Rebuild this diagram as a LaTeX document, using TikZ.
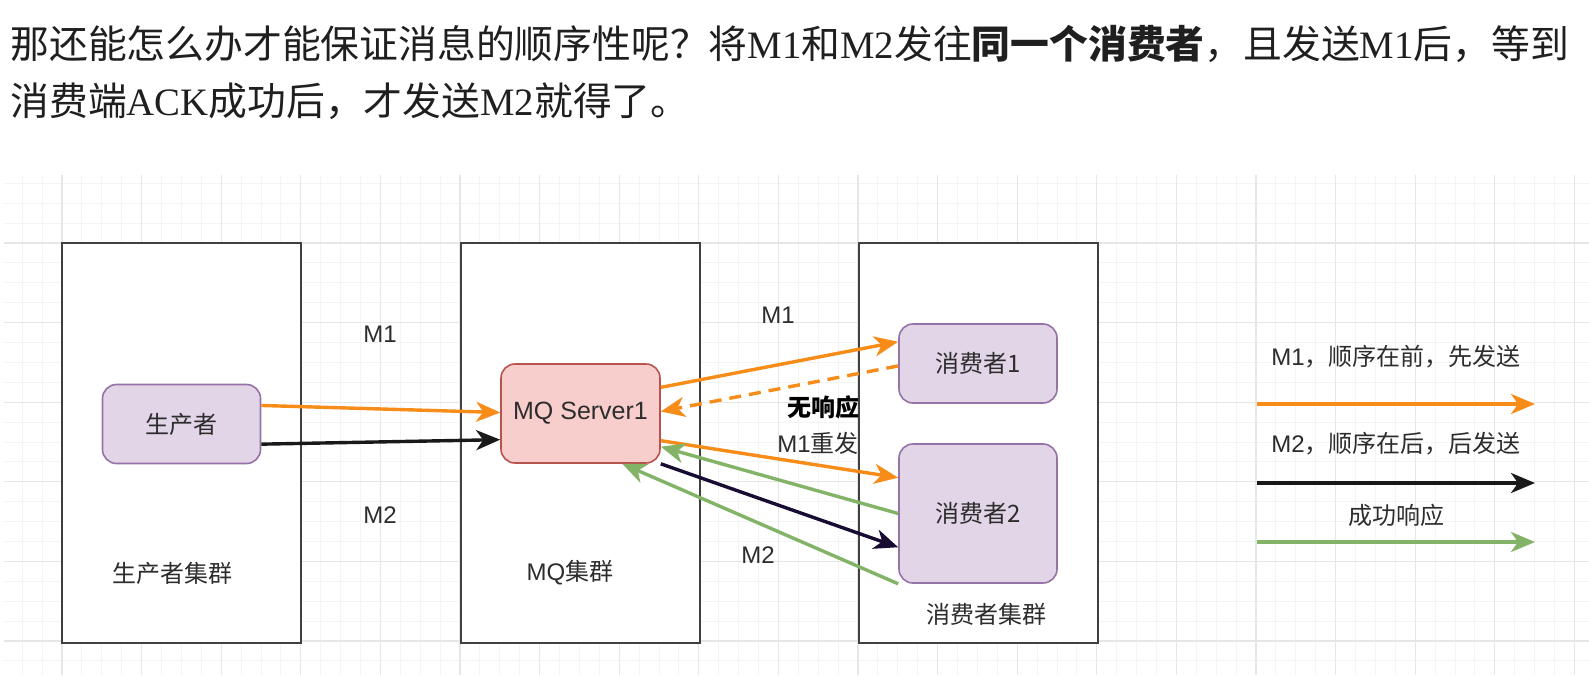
\documentclass[tikz,border=0pt]{standalone}
\usepackage{fontspec}
\setmainfont{Liberation Sans}
\newfontfamily\cjk{Noto Sans CJK SC}
\newfontfamily\serifen{Liberation Serif}
\usetikzlibrary{arrows.meta,calc}
\definecolor{orangeA}{RGB}{247,140,25}
\definecolor{greenA}{RGB}{130,179,102}
\definecolor{navyA}{RGB}{25,12,50}
\definecolor{blackA}{RGB}{25,25,25}
\definecolor{purpleF}{RGB}{225,213,231}
\definecolor{purpleD}{RGB}{150,115,166}
\definecolor{pinkF}{RGB}{248,206,204}
\definecolor{pinkD}{RGB}{184,84,80}
\definecolor{gridminor}{RGB}{244,244,244}
\definecolor{gridmajor}{RGB}{230,230,230}
\definecolor{txt}{RGB}{45,45,45}
\begin{document}
\begin{tikzpicture}[x=0.5pt,y=-0.5pt,
  cluster/.style={draw=black!75, line width=1.1pt, fill=white, minimum width=119.5pt, minimum height=200pt, inner sep=0},
  actor/.style={draw=purpleD, fill=purpleF, line width=0.8pt, rounded corners=7pt, minimum width=79pt, inner sep=0, font=\cjk\fontsize{12pt}{14pt}\selectfont, text=txt},
  server/.style={draw=pinkD, fill=pinkF, line width=0.8pt, rounded corners=7pt, minimum width=79.5pt, minimum height=49.5pt, inner sep=0, font=\fontsize{12.5pt}{14pt}\selectfont, text=txt},
  lbl/.style={font=\fontsize{12pt}{14pt}\selectfont, text=txt, inner sep=0},
  zlbl/.style={font=\cjk\fontsize{12pt}{14pt}\selectfont, text=txt, inner sep=0},
  flow/.style={line width=1.7pt, -{Stealth[length=12pt,width=10pt,inset=3.5pt]}},
  title/.style={anchor=west, inner sep=0, text=black!88, font=\cjk\fontsize{19.4pt}{22pt}\selectfont},
]
\useasboundingbox (0,0) rectangle (1589,675);
\fill[white] (0,0) rectangle (1589,675);
% grid
\begin{scope}
\clip (4,175) rectangle (1589,675);
\foreach \i in {-3,...,80} {\draw[gridminor, line width=0.5pt] ({62+19.9*\i},175) -- ({62+19.9*\i},675);}
\foreach \j in {-4,...,22} {\draw[gridminor, line width=0.5pt] (0,{243+19.9*\j}) -- (1589,{243+19.9*\j});}
\foreach \i in {-1,...,20} {\draw[gridmajor, line width=0.6pt] ({62+79.6*\i},175) -- ({62+79.6*\i},675);}
\foreach \j in {-1,...,5} {\draw[gridmajor, line width=0.6pt] (0,{243+79.6*\j}) -- (1589,{243+79.6*\j});}
\end{scope}
% title
\node[title] (t1) at (10,44) {那还能怎么办才能保证消息的顺序性呢？将{\serifen M1}和{\serifen M2}发往{\bfseries 同一个消费者}，且发送{\serifen M1}后，等到};
\node[title] (t2) at (10,101) {消费端{\serifen ACK}成功后，才发送{\serifen M2}就得了。};
% clusters
\node[cluster] (pc) at (181.5,443) {};
\node[cluster] (mc) at (580.5,443) {};
\node[cluster] (cc) at (978.5,443) {};
% nodes
\node[actor, minimum height=39.5pt] (prod) at (181.5,424) {生产者};
\node[server] (mq) at (580.5,413.5) {MQ Server1};
\node[actor, minimum height=39.5pt] (c1) at (978,363.5) {消费者1};
\node[actor, minimum height=69.5pt] (c2) at (978,513.5) {消费者2};
% connectors
\draw[flow, orangeA] ($(prod.north east)!0.27!(prod.south east)$) -- ($(mq.north west)!0.49!(mq.south west)$);
\draw[flow, blackA] ($(prod.north east)!0.75!(prod.south east)$) -- ($(mq.north west)!0.76!(mq.south west)$);
\draw[flow, orangeA] ($(mq.north east)!0.24!(mq.south east)$) -- ($(c1.north west)!0.23!(c1.south west)$);
\draw[flow, orangeA, dash pattern=on 6pt off 4pt] ($(c1.north west)!0.53!(c1.south west)$) -- ($(mq.north east)!0.48!(mq.south east)$);
\draw[flow, orangeA] ($(mq.north east)!0.77!(mq.south east)$) -- ($(c2.north west)!0.245!(c2.south west)$);
\draw[flow, greenA] ($(c2.north west)!0.5!(c2.south west)$) -- ($(mq.north east)!0.83!(mq.south east)$);
\draw[flow, navyA] (mq.south east) -- ($(c2.north west)!0.74!(c2.south west)$);
\draw[flow, greenA] (c2.south west) -- ($(mq.south west)!0.76!(mq.south east)$);
% labels
\node[lbl] (m1a) at (380,334) {M1};
\node[lbl] (m2a) at (380,515) {M2};
\node[lbl] (m1b) at (778,315) {M1};
\node[zlbl, font=\cjk\bfseries\fontsize{12pt}{14pt}\selectfont, text=black] (nr) at (823,407) {无响应};
\node[lbl] (m1r) at (818,443) {M1{\cjk 重发}};
\node[lbl] (m2b) at (758,555) {M2};
\node[zlbl] (pcl) at (172,573) {生产者集群};
\node[lbl] (mcl) at (570,573) {MQ{\cjk 集群}};
\node[zlbl] (ccl) at (986,614) {消费者集群};
% legend
\node[lbl] (lg1) at (1396,357) {M1{\cjk ，顺序在前，先发送}};
\node[lbl] (lg2) at (1396,444) {M2{\cjk ，顺序在后，后发送}};
\node[zlbl] (lg3) at (1396,515) {成功响应};
\coordinate (l1s) at (1257,404); \coordinate (l1e) at (1535,404);
\coordinate (l2s) at (1257,483); \coordinate (l2e) at (1535,483);
\coordinate (l3s) at (1257,542); \coordinate (l3e) at (1535,542);
\draw[flow, orangeA] (l1s) -- (l1e);
\draw[flow, blackA] (l2s) -- (l2e);
\draw[flow, greenA] (l3s) -- (l3e);
\end{tikzpicture}
\end{document}
